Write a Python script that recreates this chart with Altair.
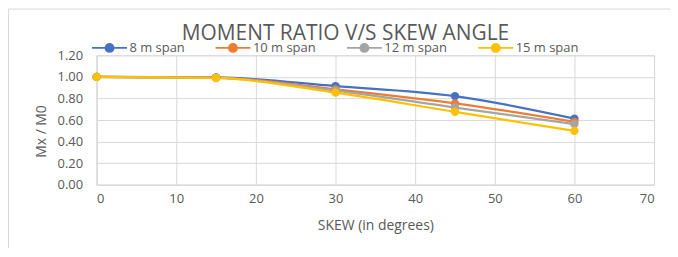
import altair as alt
import pandas as pd

skew = [0, 15, 30, 45, 60]
series = ["8 m span", "10 m span", "12 m span", "15 m span"]
span8 = [1.00, 0.995, 0.915, 0.822, 0.613]
span10 = [1.00, 0.993, 0.885, 0.755, 0.583]
span12 = [1.00, 0.992, 0.872, 0.716, 0.562]
span15 = [1.00, 0.990, 0.854, 0.676, 0.500]
colors = ["#4472C4", "#ED7D31", "#A5A5A5", "#FFC000"]
title_text = "MOMENT RATIO V/S SKEW ANGLE"

rows = []
for i, (name, vals) in enumerate(zip(series, [span8, span10, span12, span15])):
    for x, v in zip(skew, vals):
        rows.append({"skew": x, "ratio": v, "series": name, "order": i})
df = pd.DataFrame(rows)

FONT = "Open Sans"
GREY = "#595959"
W, H = 560, 130
PL, PT, PR, PB = 89, 47, 16, 63

color = alt.Color(
    "series:N",
    scale=alt.Scale(domain=series, range=colors),
    legend=alt.Legend(
        title=None,
        orient="none",
        direction="horizontal",
        legendX=0,
        legendY=-20.5,
        symbolType="M -1.5 0 L 1.5 0 M 0.34 0 A 0.34 0.34 0 1 1 -0.34 0 A 0.34 0.34 0 1 1 0.34 0 Z",
        symbolSize=545,
        symbolStrokeWidth=2,
        labelFont=FONT,
        labelFontSize=13,
        labelColor=GREY,
        labelOffset=7,
        columnPadding=26,
        symbolOffset=0,
    ),
)

xenc = alt.X(
    "skew:Q",
    scale=alt.Scale(domain=[0, 70], nice=False),
    axis=alt.Axis(values=[0, 10, 20, 30, 40, 50, 60, 70], title="SKEW (in degrees)",
                  titlePadding=13, labelPadding=8),
)
yenc = alt.Y(
    "ratio:Q",
    scale=alt.Scale(domain=[0, 1.2], nice=False),
    axis=alt.Axis(values=[0, 0.2, 0.4, 0.6, 0.8, 1.0, 1.2], format=".2f", title="Mx / M0",
                  labelPadding=14, titleY=76, titlePadding=9),
)

base = alt.Chart(df)
lines = base.mark_line(interpolate="monotone", strokeWidth=2.25).encode(
    x=xenc, y=yenc, color=color, order=alt.Order("order:Q"), detail="series:N"
)
points = base.mark_point(filled=True, size=70, opacity=1).encode(
    x=xenc, y=yenc, color=color, order=alt.Order("order:Q")
)

one = pd.DataFrame({"a": [0]})
frame = alt.Chart(one).mark_rect(
    fill=None, stroke="#d9d9d9", strokeWidth=1
).encode(
    x=alt.value(-PL + 0.5), x2=alt.value(W + PR + 20),
    y=alt.value(-PT + 0.5), y2=alt.value(H + PB + 20),
)
title = alt.Chart(one).mark_text(
    text=title_text, font=FONT, fontSize=21, color=GREY, align="center", baseline="alphabetic"
).encode(x=alt.value(250), y=alt.value(-15))

chart = alt.layer(frame, lines, points, title).properties(
    width=W,
    height=H,
    padding={"left": PL, "top": PT, "right": PR, "bottom": PB},
    autosize=alt.AutoSizeParams(type="none"),
    background="white",
).configure_axis(
    gridColor="#d9d9d9", domainColor="#d9d9d9", ticks=False,
    labelFont=FONT, labelFontSize=13, labelColor=GREY,
    titleFont=FONT, titleFontSize=14, titleColor=GREY, titleFontWeight="normal",
).configure_view(stroke="#d9d9d9")

chart.save("out.html", embed_options={"renderer": "svg", "actions": False})
